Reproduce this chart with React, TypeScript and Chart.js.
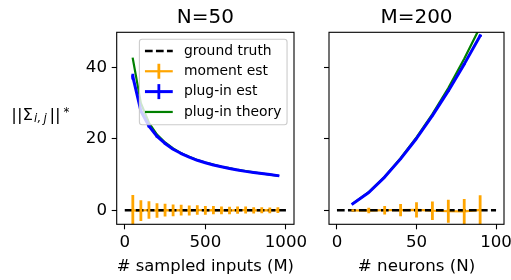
import React, { useEffect, useRef } from "react";
import { Chart, registerables } from "chart.js";

Chart.register(...registerables);

const FONT_FAMILY = "'DejaVu Sans', sans-serif";

// ---------- Left panel: N=50 ----------
const sampledInputs = [50, 100, 150, 200, 250, 300, 350, 400, 450, 500, 550, 600, 650, 700, 750, 800, 850, 900, 950];
const momentEstLeft = [0.0, -0.1, 0.1, -0.05, 0.05, 0.0, 0.05, -0.05, 0.1, 0.0, 0.05, 0.0, -0.05, 0.05, 0.1, 0.0, 0.05, 0.0, 0.05];
const momentErrLeft = [4.3, 2.9, 2.45, 2.05, 1.8, 1.65, 1.5, 1.4, 1.3, 1.25, 1.15, 1.1, 1.05, 1.0, 0.95, 0.9, 0.85, 0.82, 0.8];
const pluginEstLeft = [37.4, 27.8, 23.6, 20.7, 18.7, 17.1, 15.9, 14.9, 14.0, 13.3, 12.7, 12.2, 11.7, 11.3, 10.9, 10.6, 10.3, 10.0, 9.7];
const pluginErrLeft = [0.8, 0.5, 0.4, 0.35, 0.3, 0.25, 0.25, 0.2, 0.2, 0.2, 0.15, 0.15, 0.15, 0.15, 0.1, 0.1, 0.1, 0.1, 0.1];
const pluginTheoryLeft = [42.4, 30.0, 24.5, 21.2, 19.0, 17.3, 16.0, 15.0, 14.1, 13.4, 12.8, 12.2, 11.8, 11.3, 11.0, 10.6, 10.3, 10.0, 9.7];
const groundTruthLeftX = [0, 1000];

// ---------- Right panel: M=200 ----------
const neurons = [10, 20, 30, 40, 50, 60, 70, 80, 90];
const momentEstRight = [0.0, -0.05, 0.05, 0.05, 0.15, -0.1, -0.25, -0.3, 0.1];
const momentErrRight = [0.3, 0.75, 1.2, 1.7, 2.15, 2.6, 3.2, 3.5, 4.1];
const pluginEstRight = [1.85, 5.0, 9.3, 14.4, 20.1, 26.5, 33.4, 40.9, 48.8];
const pluginErrRight = [0.1, 0.1, 0.1, 0.15, 0.15, 0.2, 0.2, 0.25, 0.3];
const pluginTheoryRight = [1.9, 5.1, 9.4, 14.6, 20.4, 26.9, 34.2, 42.4, 51.3];
const groundTruthRightX = [0, 100];

const groundTruthValues = [0, 0];

// ---------- Axes ----------
const yTicks = [0, 20, 40];
const leftXTicks = [0, 500, 1000];
const rightXTicks = [0, 50, 100];
const yRange = [-3.9, 49.8];
const leftXRange = [-50, 1050];
const rightXRange = [-5, 105];

const titles = ["N=50", "M=200"];
const xLabels = ["# sampled inputs (M)", "# neurons (N)"];

// layout (pixels)
const W = 511;
const H = 280;
const AX_TOP = 32.3;
const AX_BOTTOM = 224.3;
const LEFT_AX = { left: 116.7, right: 294 };
const RIGHT_AX = { left: 329, right: 504 };

const COLORS = {
  truth: "#000000",
  moment: "#ffa500",
  est: "#0000ff",
  theory: "#008000",
};

function pts(xs: number[], ys: number[]) {
  return xs.map((x, i) => ({ x, y: ys[i] }));
}

function buildDatasets(
  xs: number[],
  gtX: number[],
  moment: number[],
  momentErr: number[],
  est: number[],
  estErr: number[],
  theory: number[]
) {
  const common = { pointRadius: 0, tension: 0, fill: false, clip: 0, borderJoinStyle: "round" };
  return [
    {
      ...common,
      label: "plug-in est",
      data: pts(xs, est),
      borderColor: COLORS.est,
      borderWidth: 3,
      borderCapStyle: "square",
      errorBars: estErr,
      errorBarWidth: 2.8,
      order: 0,
      legendRank: 2,
      legendKind: "err",
    },
    {
      ...common,
      label: "plug-in theory",
      data: pts(xs, theory),
      borderColor: COLORS.theory,
      borderWidth: 2.2,
      borderCapStyle: "square",
      order: 1,
      legendRank: 3,
      legendKind: "line",
    },
    {
      ...common,
      label: "ground truth",
      data: pts(gtX, groundTruthValues),
      borderColor: COLORS.truth,
      borderWidth: 2.5,
      borderDash: [7.7, 3.3],
      borderCapStyle: "butt",
      order: 2,
      legendRank: 0,
      legendKind: "dash",
    },
    {
      ...common,
      label: "moment est",
      data: pts(xs, moment),
      borderColor: COLORS.moment,
      borderWidth: 2.2,
      borderCapStyle: "square",
      errorBars: momentErr,
      errorBarWidth: 2.8,
      order: 3,
      legendRank: 1,
      legendKind: "err",
    },
  ];
}

function makeDecor(opts: { title: string; legend: boolean; yLabel: boolean }) {
  return {
    id: "decor",
    afterDatasetsDraw(chart: any) {
      const { ctx, chartArea } = chart;
      const xs = chart.scales.x;
      const ys = chart.scales.y;
      // error bars
      ctx.save();
      ctx.beginPath();
      ctx.rect(chartArea.left, chartArea.top, chartArea.right - chartArea.left, chartArea.bottom - chartArea.top);
      ctx.clip();
      chart.data.datasets.forEach((ds: any) => {
        if (!ds.errorBars) return;
        ctx.strokeStyle = ds.borderColor;
        ctx.lineWidth = ds.errorBarWidth;
        ctx.lineCap = "butt";
        ds.data.forEach((p: any, j: number) => {
          const e = ds.errorBars[j];
          const px = xs.getPixelForValue(p.x);
          ctx.beginPath();
          ctx.moveTo(px, ys.getPixelForValue(p.y + e));
          ctx.lineTo(px, ys.getPixelForValue(p.y - e));
          ctx.stroke();
        });
      });
      ctx.restore();

      // frame (spines)
      ctx.save();
      ctx.strokeStyle = "#000";
      ctx.lineWidth = 1.1;
      ctx.strokeRect(chartArea.left, chartArea.top, chartArea.right - chartArea.left, chartArea.bottom - chartArea.top);
      ctx.restore();

      // legend
      if (opts.legend) {
        const fs = 13.9;
        const items = [...chart.data.datasets].sort((a: any, b: any) => a.legendRank - b.legendRank);
        ctx.save();
        ctx.font = `${fs}px ${FONT_FAMILY}`;
        const maxW = Math.max(...items.map((d: any) => ctx.measureText(d.label).width));
        const pad = 0.4 * fs;
        const handleLen = 2 * fs;
        const handlePad = 0.8 * fs;
        const rowH = 13.4;
        const spacing = 0.5 * fs;
        const boxW = pad + handleLen + handlePad + maxW + pad;
        const boxH = 2 * pad + items.length * rowH + (items.length - 1) * spacing;
        const bx = chartArea.right - 0.5 * fs - boxW;
        const by = chartArea.top + 0.5 * fs;
        const r = 0.2 * fs;
        ctx.beginPath();
        ctx.moveTo(bx + r, by);
        ctx.lineTo(bx + boxW - r, by);
        ctx.arcTo(bx + boxW, by, bx + boxW, by + r, r);
        ctx.lineTo(bx + boxW, by + boxH - r);
        ctx.arcTo(bx + boxW, by + boxH, bx + boxW - r, by + boxH, r);
        ctx.lineTo(bx + r, by + boxH);
        ctx.arcTo(bx, by + boxH, bx, by + boxH - r, r);
        ctx.lineTo(bx, by + r);
        ctx.arcTo(bx, by, bx + r, by, r);
        ctx.closePath();
        ctx.fillStyle = "rgba(255,255,255,0.8)";
        ctx.fill();
        ctx.strokeStyle = "#cccccc";
        ctx.lineWidth = 1.1;
        ctx.stroke();

        items.forEach((d: any, i: number) => {
          const cy = by + pad + rowH / 2 + i * (rowH + spacing) - 0.6;
          const hx = bx + pad;
          ctx.strokeStyle = d.borderColor;
          ctx.setLineDash(d.legendKind === "dash" ? d.borderDash : []);
          ctx.lineWidth = d.borderWidth;
          ctx.lineCap = "butt";
          ctx.beginPath();
          ctx.moveTo(hx, cy);
          ctx.lineTo(hx + handleLen, cy);
          ctx.stroke();
          ctx.setLineDash([]);
          if (d.legendKind === "err") {
            ctx.lineWidth = d.errorBarWidth;
            ctx.beginPath();
            ctx.moveTo(hx + handleLen / 2, cy - 7.5);
            ctx.lineTo(hx + handleLen / 2, cy + 7.5);
            ctx.stroke();
          }
          ctx.fillStyle = "#000";
          ctx.textAlign = "left";
          ctx.textBaseline = "middle";
          ctx.fillText(d.label, hx + handleLen + handlePad, cy);
        });
        ctx.restore();
      }
    },
    afterDraw(chart: any) {
      const { ctx, chartArea } = chart;
      ctx.save();
      ctx.fillStyle = "#000";
      ctx.font = `20px ${FONT_FAMILY}`;
      ctx.textAlign = "center";
      ctx.textBaseline = "alphabetic";
      ctx.fillText(opts.title, (chartArea.left + chartArea.right) / 2, chartArea.top - 9);

      if (opts.yLabel) {
        const base = 16.67;
        const small = base * 0.7;
        ctx.textAlign = "left";
        const runs: [string, number, number, string][] = [
          ["||", 11.3, 119.5, `${base}px ${FONT_FAMILY}`],
          ["\u03A3", 22.5, 119.5, `${base}px ${FONT_FAMILY}`],
          ["i", 34, 122, `italic ${small}px ${FONT_FAMILY}`],
          [",", 37.5, 122, `italic ${small}px ${FONT_FAMILY}`],
          ["j", 43.5, 122, `italic ${small}px ${FONT_FAMILY}`],
          ["||", 49.5, 119.5, `${base}px ${FONT_FAMILY}`],
          ["*", 63.5, 116, `${small}px ${FONT_FAMILY}`],
        ];
        runs.forEach(([t, x, y, f]) => {
          ctx.font = f;
          ctx.fillText(t, x, y);
        });
      }
      ctx.restore();
    },
  };
}

const tickFont = { family: FONT_FAMILY, size: 16.67, lineHeight: 1.2 };

function makeConfig(panel: "left" | "right"): any {
  const isLeft = panel === "left";
  const ax = isLeft ? LEFT_AX : RIGHT_AX;
  const xRange = isLeft ? leftXRange : rightXRange;
  const xTicks = isLeft ? leftXTicks : rightXTicks;
  const datasets = isLeft
    ? buildDatasets(sampledInputs, groundTruthLeftX, momentEstLeft, momentErrLeft, pluginEstLeft, pluginErrLeft, pluginTheoryLeft)
    : buildDatasets(neurons, groundTruthRightX, momentEstRight, momentErrRight, pluginEstRight, pluginErrRight, pluginTheoryRight);

  const gridOpts = {
    display: true,
    drawOnChartArea: false,
    drawTicks: true,
    tickLength: 5,
    tickWidth: 1.1,
    tickColor: "#000",
  };

  return {
    type: "line",
    data: { datasets },
    options: {
      responsive: false,
      animation: false,
      events: [],
      devicePixelRatio: 1,
      layout: { padding: { top: AX_TOP, left: 0, right: W - ax.right, bottom: 0 } },
      plugins: { legend: { display: false }, tooltip: { enabled: false }, title: { display: false } },
      scales: {
        x: {
          type: "linear",
          min: xRange[0],
          max: xRange[1],
          afterBuildTicks: (s: any) => {
            s.ticks = xTicks.map((v) => ({ value: v }));
          },
          afterFit: (s: any) => {
            s.height = H - AX_BOTTOM;
            s.paddingLeft = 0;
            s.paddingRight = 0;
          },
          grid: gridOpts,
          border: { display: false },
          ticks: {
            color: "#000",
            font: tickFont,
            padding: 3,
            maxRotation: 0,
            autoSkip: false,
            callback: (v: any) => String(v),
          },
          title: {
            display: true,
            text: isLeft ? xLabels[0] : xLabels[1],
            color: "#000",
            font: tickFont,
            padding: { top: 0, bottom: 3 },
          },
        },
        y: {
          type: "linear",
          min: yRange[0],
          max: yRange[1],
          afterBuildTicks: (s: any) => {
            s.ticks = yTicks.map((v) => ({ value: v }));
          },
          afterFit: (s: any) => {
            s.width = ax.left;
            s.paddingTop = 0;
            s.paddingBottom = 0;
          },
          grid: gridOpts,
          border: { display: false },
          ticks: {
            display: isLeft,
            color: "#000",
            font: tickFont,
            padding: 4.7,
            autoSkip: false,
            callback: (v: any) => String(v),
          },
        },
      },
    },
    plugins: [makeDecor({ title: isLeft ? titles[0] : titles[1], legend: isLeft, yLabel: isLeft })],
  };
}

export default function App() {
  const leftRef = useRef<HTMLCanvasElement | null>(null);
  const rightRef = useRef<HTMLCanvasElement | null>(null);

  useEffect(() => {
    Chart.defaults.font.family = FONT_FAMILY;
    const c1 = new Chart(leftRef.current as HTMLCanvasElement, makeConfig("left"));
    const c2 = new Chart(rightRef.current as HTMLCanvasElement, makeConfig("right"));
    return () => {
      c1.destroy();
      c2.destroy();
    };
  }, []);

  const canvasStyle: React.CSSProperties = {
    position: "absolute",
    left: 0,
    top: 0,
    width: W,
    height: H,
  };

  return (
    <div
      style={{
        position: "fixed",
        left: 0,
        top: 0,
        width: W,
        height: H,
        overflow: "hidden",
        background: "#fff",
      }}
    >
      <canvas ref={leftRef} width={W} height={H} style={canvasStyle} />
      <canvas ref={rightRef} width={W} height={H} style={canvasStyle} />
    </div>
  );
}
